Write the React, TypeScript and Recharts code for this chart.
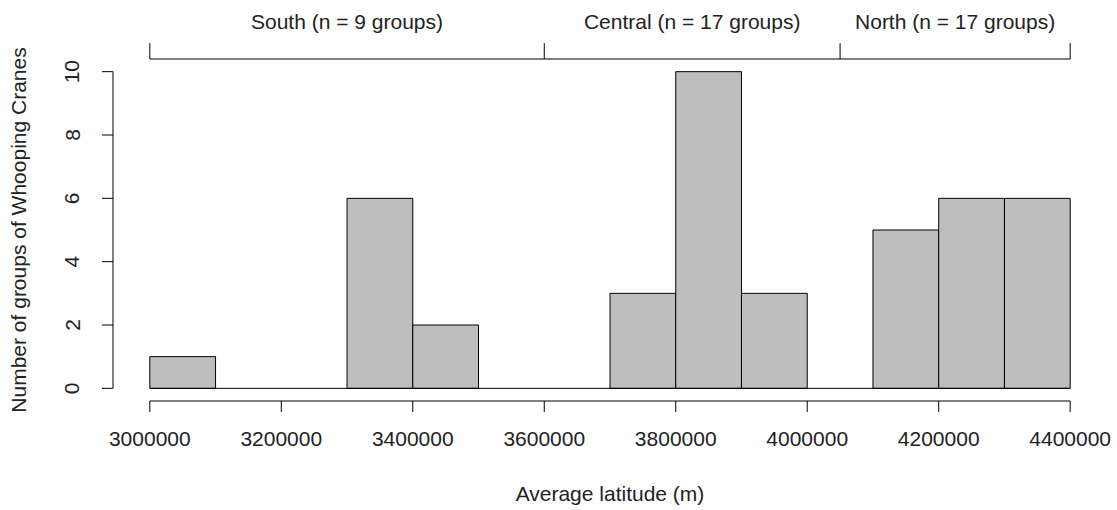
import { ComposedChart, XAxis, YAxis, ReferenceArea, ReferenceLine } from 'recharts';

const binEdges = [
  3000000, 3100000, 3200000, 3300000, 3400000, 3500000, 3600000, 3700000,
  3800000, 3900000, 4000000, 4100000, 4200000, 4300000, 4400000,
];
const counts = [1, 0, 0, 6, 2, 0, 0, 3, 10, 3, 0, 5, 6, 6];

const xTicks = [3000000, 3200000, 3400000, 3600000, 3800000, 4000000, 4200000, 4400000];
const yTicks = [0, 2, 4, 6, 8, 10];

const groupBounds = [3000000, 3600000, 4050000, 4400000];
const groupLabels = ['South (n = 9 groups)', 'Central (n = 17 groups)', 'North (n = 17 groups)'];

const FONT = '"Liberation Sans", Arial, sans-serif';
const TEXT = '#222';
const X_DOMAIN: [number, number] = [2944000, 4456000];
const Y_DOMAIN: [number, number] = [-0.4, 10.4];

const YTick = ({ y, payload }: any) => (
  <text
    x={72}
    y={y}
    transform={`rotate(-90 72 ${y})`}
    textAnchor="middle"
    dominantBaseline="central"
    fontFamily={FONT}
    fontSize={21}
    fill={TEXT}
  >
    {payload.value}
  </text>
);

export default function App() {
  return (
    <div style={{ position: 'absolute', left: 0, top: 0, background: '#fff' }}>
      <ComposedChart width={1117} height={510} margin={{ top: 59, right: 10, bottom: 0, left: 0 }}>
        <XAxis
          type="number"
          dataKey="x"
          domain={X_DOMAIN}
          allowDataOverflow
          ticks={xTicks}
          interval={0}
          height={109}
          axisLine={false}
          tickLine={{ stroke: '#000' }}
          tickSize={11}
          tickMargin={19}
          tick={{ fontFamily: FONT, fontSize: 21, fill: TEXT }}
          label={({ viewBox }: any) => (
            <text
              x={viewBox.x + viewBox.width / 2}
              y={viewBox.y + 100}
              textAnchor="middle"
              fontFamily={FONT}
              fontSize={21}
              fill={TEXT}
            >
              Average latitude (m)
            </text>
          )}
        />
        <YAxis
          type="number"
          domain={Y_DOMAIN}
          allowDataOverflow
          ticks={yTicks}
          interval={0}
          width={113}
          axisLine={false}
          tickLine={{ stroke: '#000' }}
          tickSize={11}
          tick={<YTick />}
          label={({ viewBox }: any) => (
            <text
              x={18}
              y={viewBox.y + viewBox.height / 2}
              transform={`rotate(-90 18 ${viewBox.y + viewBox.height / 2})`}
              textAnchor="middle"
              dominantBaseline="central"
              fontFamily={FONT}
              fontSize={21}
              fill={TEXT}
            >
              Number of groups of Whooping Cranes
            </text>
          )}
        />

        {/* axis lines, R style: only across the tick range */}
        <ReferenceLine
          segment={[{ x: xTicks[0], y: Y_DOMAIN[0] }, { x: xTicks[xTicks.length - 1], y: Y_DOMAIN[0] }]}
          stroke="#000"
          ifOverflow="visible"
        />
        <ReferenceLine
          segment={[{ x: X_DOMAIN[0], y: yTicks[0] }, { x: X_DOMAIN[0], y: yTicks[yTicks.length - 1] }]}
          stroke="#000"
          ifOverflow="visible"
        />

        {/* histogram bars */}
        <ReferenceLine
          segment={[{ x: binEdges[0], y: 0 }, { x: binEdges[binEdges.length - 1], y: 0 }]}
          stroke="#000"
          ifOverflow="visible"
        />
        {counts.map((c, i) => (
          <ReferenceArea
            key={i}
            x1={binEdges[i]}
            x2={binEdges[i + 1]}
            y1={0}
            y2={c}
            fill="#bebebe"
            fillOpacity={1}
            stroke="#000"
            strokeWidth={1}
            ifOverflow="visible"
          />
        ))}

        {/* group bracket on top */}
        {groupLabels.map((g, i) => (
          <ReferenceLine
            key={g}
            segment={[{ x: groupBounds[i], y: Y_DOMAIN[1] }, { x: groupBounds[i + 1], y: Y_DOMAIN[1] }]}
            stroke="#000"
            ifOverflow="visible"
            label={{ value: g, position: 'top', offset: 30, fontFamily: FONT, fontSize: 21, fill: TEXT }}
          />
        ))}
        {groupBounds.map((b) => (
          <ReferenceLine
            key={b}
            segment={[{ x: b, y: Y_DOMAIN[1] }, { x: b, y: 10.9 }]}
            stroke="#000"
            ifOverflow="visible"
          />
        ))}
      </ComposedChart>
    </div>
  );
}
